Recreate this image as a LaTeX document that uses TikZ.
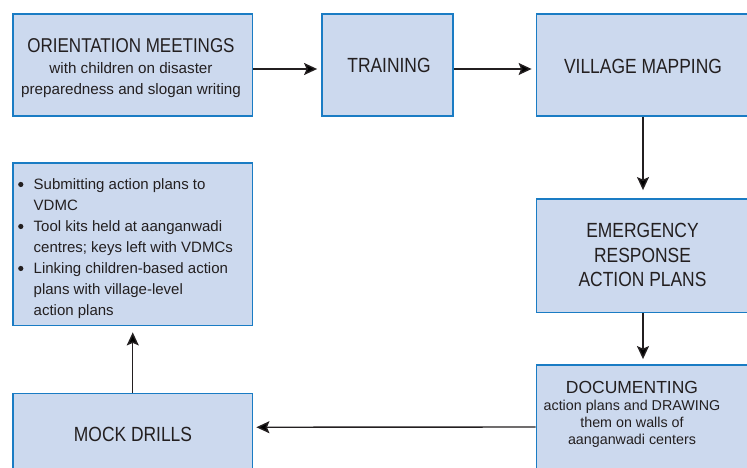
\documentclass[tikz,border=0pt]{standalone}
\usepackage{fontspec}
\setmainfont{Liberation Sans}
\newfontfamily\headfont[FakeStretch=0.85]{Liberation Sans}
\usetikzlibrary{arrows.meta}
\definecolor{boxfill}{HTML}{CCD9EE}
\definecolor{boxline}{HTML}{1A7CC4}
\definecolor{ink}{HTML}{231F20}
\newcommand{\bigdot}{\makebox[15.5pt][l]{\raisebox{2pt}{\tikz\fill[ink] (0pt,0pt) circle (2.6pt);}}}
\begin{document}
\begin{tikzpicture}[x=1pt,y=-1pt,
  box/.style={draw=boxline, fill=boxfill, line width=1.8pt, rectangle, inner sep=0pt},
  lbl/.style={text=ink, align=center, inner sep=0pt},
  headtxt/.style={font=\headfont\fontsize{20.5}{24.7}\selectfont},
  flow/.style={draw=ink, line width=1.4pt, -{Stealth[length=13pt,width=12pt,inset=2.5pt]}}
]
\useasboundingbox (0,0) rectangle (747,468);
\clip (0,0) rectangle (747,468);

% boxes
\node[box, minimum width=239.5pt, minimum height=102pt] (orient) at (132.75,65) {};
\node[box, minimum width=131pt, minimum height=102pt] (train) at (387.5,65) {};
\node[box, minimum width=213pt, minimum height=102pt] (village) at (643,65) {};
\node[box, minimum width=213pt, minimum height=113.5pt] (emerg) at (643,255.75) {};
\node[box, minimum width=213pt, minimum height=110pt] (doc) at (643,420) {};
\node[box, minimum width=239.5pt, minimum height=81.5pt] (mock) at (132.75,434.25) {};
\node[box, minimum width=239.5pt, minimum height=162.5pt] (bullets) at (132.75,244.25) {};

% labels
\node[lbl, font=\fontsize{15.2}{21}\selectfont] (orientT) at (131,68)
  {{\headfont\fontsize{20}{21}\selectfont ORIENTATION MEETINGS}\\
   with children on disaster\\ preparedness and slogan writing};
\node[lbl, headtxt] (trainT) at (389,65) {TRAINING};
\node[lbl, headtxt] (villageT) at (643,66) {VILLAGE MAPPING};
\node[lbl, headtxt] (emergT) at (642.5,255) {EMERGENCY\\ RESPONSE\\ ACTION PLANS};
\node[lbl, font=\fontsize{14.3}{17}\selectfont] (docT) at (632,414)
  {{\fontsize{17.5}{17}\selectfont DOCUMENTING}\\
   action plans and DRAWING\\ them on walls of\\ aanganwadi centers};
\node[lbl, headtxt] (mockT) at (133,434.5) {MOCK DRILLS};
\node[lbl, align=left, anchor=north west, font=\fontsize{15}{21}\selectfont] (bulletsT) at (18,178)
  {\bigdot Submitting action plans to\\
   \hspace*{15.5pt}VDMC\\
   \bigdot Tool kits held at aanganwadi\\
   \hspace*{15.5pt}centres; keys left with VDMCs\\
   \bigdot Linking children-based action\\
   \hspace*{15.5pt}plans with village-level\\
   \hspace*{15.5pt}action plans};

% connectors
\draw[flow, shorten >=4pt] ([yshift=-4pt]orient.east) -- ([yshift=-4pt]train.west);
\draw[flow, shorten >=4pt] ([yshift=-4pt]train.east) -- ([yshift=-4pt]village.west);
\draw[flow, shorten >=8pt] (village.south) -- (emerg.north);
\draw[flow, shorten >=5pt] (emerg.south) -- (doc.north);
\draw[flow, shorten >=3pt] ([yshift=-7pt]doc.west) -- ([yshift=7pt]mock.east);
\draw[flow, shorten >=6pt] (mock.north) -- (bullets.south);
\end{tikzpicture}
\end{document}
